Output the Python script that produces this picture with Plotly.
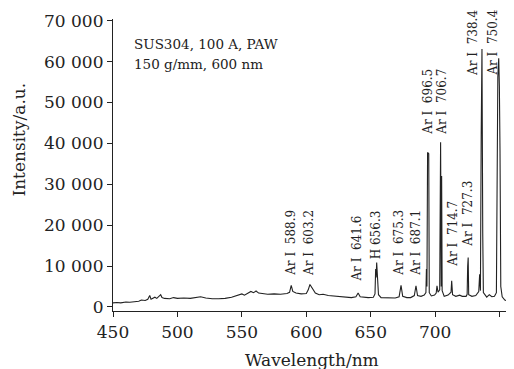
import plotly.graph_objects as go

wavelength = [
    450, 453, 456, 460, 463, 466, 470, 472, 475, 477, 478.5, 479.5, 481, 482.5, 484, 486, 487, 488, 490,
    494, 497, 500, 505, 510, 515, 518, 522, 527, 532, 537, 542, 547, 550, 552, 555, 557, 559, 561, 563,
    566, 570, 575, 580, 585, 587, 588.3, 589.5, 592, 596, 600, 601.5, 602.8, 604.5, 607, 610, 613, 617,
    620, 625, 630, 635, 638.5, 640.2, 641.8, 645, 648, 652, 653.3, 653.8, 654.2, 654.6, 655.2, 656, 658,
    662, 666, 669, 672, 673.5, 674.8, 678, 681, 683.8, 685.1, 686.3, 689, 691.5, 692.8, 693.2, 693.6,
    694.1, 695.0, 695.4, 697, 699.5, 700.8, 701.4, 702.2, 703.5, 704.2, 704.7, 705.0, 705.4, 707, 710,
    712.3, 712.8, 713.5, 716, 719, 721, 724, 724.8, 725.2, 725.6, 726, 728.5, 731.5, 733.8, 734.5, 735.1,
    735.7, 736.3, 736.9, 737.4, 740, 742, 744, 746, 747.5, 748, 748.6, 749.3, 749.8, 750.3, 750.9, 752,
    754, 756.5,
]
intensity = [
    1000, 1100, 1000, 1200, 1150, 1300, 1400, 1700, 1600, 1900, 2800, 1900, 2200, 2400, 2100, 2600, 3000, 2300, 2100,
    2000, 2300, 2100, 2200, 2100, 2300, 2500, 2200, 2000, 2000, 2100, 2400, 2800, 3200, 2900, 3500, 3800, 3500, 3900, 3400,
    3200, 3100, 3200, 3100, 3300, 3600, 5300, 3800, 3400, 3200, 3300, 4200, 5500, 4500, 3400, 3000, 3100, 2800,
    2700, 2500, 2400, 2300, 2500, 3400, 2500, 2400, 2300, 2400, 3200, 9300, 7200, 10900, 7300, 3000, 2300,
    2300, 2300, 2200, 2500, 5300, 2600, 2300, 2300, 2800, 5200, 2800, 2600, 2900, 3500, 9300, 5000,
    37800, 37500, 3500, 2700, 2900, 3400, 5200, 3600, 4200, 40300, 5000, 32000, 4000, 2600, 2900,
    3600, 6400, 3000, 2600, 2900, 2600, 2600, 3100, 9900, 12100, 3000, 2600, 2800, 3800, 8000, 4000,
    42000, 63100, 18000, 3500, 2400, 3000, 2500, 2600, 3500, 28400, 56200, 60800, 54000, 38000, 5000, 2500,
    1700, 1500,
]

line_labels = ["Ar I\u00a0\u00a0588.9", "Ar I\u00a0\u00a0603.2", "Ar I\u00a0\u00a0641.6", "H 656.3",
               "Ar I\u00a0\u00a0675.3", "Ar I\u00a0\u00a0687.1", "Ar I\u00a0\u00a0696.5",
               "Ar I\u00a0\u00a0706.7", "Ar I\u00a0\u00a0714.7", "Ar I\u00a0\u00a0727.3",
               "Ar I\u00a0\u00a0738.4", "Ar I\u00a0\u00a0750.4"]
label_wl = [588, 602, 639, 654.7, 671.7, 684.9, 694.2, 705, 713.6, 725.2, 729.3, 744.6]
label_base = [7090, 7090, 5620, 11250, 7090, 7090, 41560, 41560, 9290, 14180, 56000, 56000]

y_tickvals = [0, 10000, 20000, 30000, 40000, 50000, 60000, 70000]
y_ticktext = ["0", "10 000", "20 000", "30 000", "40 000", "50 000", "60 000", "70 000"]
x_tickvals = [450, 500, 550, 600, 650, 700, 750]

info_lines = ["SUS304, 100 A, PAW", "150 g/mm, 600 nm"]

FONT = "DejaVu Serif"
INK = "#222222"

fig = go.Figure()
fig.add_trace(go.Scatter(x=wavelength, y=intensity, mode="lines",
                         line=dict(color=INK, width=1.1), showlegend=False))

for txt, x, y in zip(line_labels, label_wl, label_base):
    fig.add_annotation(x=x, y=y, text=txt, textangle=-90, showarrow=False,
                       xanchor="center", yanchor="bottom",
                       font=dict(family=FONT, size=12, color=INK))

for i, txt in enumerate(info_lines):
    fig.add_annotation(x=0.047, y=0.915 - i * 0.069, xref="paper", yref="paper", text=txt,
                       showarrow=False, xanchor="left", yanchor="middle",
                       font=dict(family=FONT, size=13.5, color=INK))

# axis titles
fig.add_annotation(x=0.504, y=-0.168, xref="paper", yref="paper", text="Wavelength/nm",
                   showarrow=False, xanchor="center", yanchor="middle",
                   font=dict(family=FONT, size=17, color=INK))
fig.add_annotation(x=-0.238, y=0.587, xref="paper", yref="paper", text="Intensity/a.u.",
                   textangle=-90, showarrow=False, xanchor="center", yanchor="middle",
                   font=dict(family=FONT, size=17, color=INK))

# the page body adds an 8 px margin, so the figure is sized to sit in the 514x369 window
fig.update_layout(
    width=506, height=361,
    margin=dict(l=105, r=6, t=11, b=58, autoexpand=False),
    paper_bgcolor="white", plot_bgcolor="white",
    font=dict(family=FONT, size=17, color=INK),
    xaxis=dict(range=[450, 756.5], tickvals=x_tickvals, ticks="outside", ticklen=5,
               tickwidth=1.2, tickcolor=INK, showline=True, linecolor=INK,
               linewidth=1.2, showgrid=False, zeroline=False, automargin=False,
               tickfont=dict(size=17)),
    yaxis=dict(range=[-980, 70415], tickvals=y_tickvals, ticktext=y_ticktext, ticks="outside",
               ticklen=5, tickwidth=1.2, tickcolor=INK, showline=True,
               linecolor=INK, linewidth=1.2, showgrid=False, zeroline=False,
               automargin=False, tickfont=dict(size=17)),
)

fig.write_html("out.html")
